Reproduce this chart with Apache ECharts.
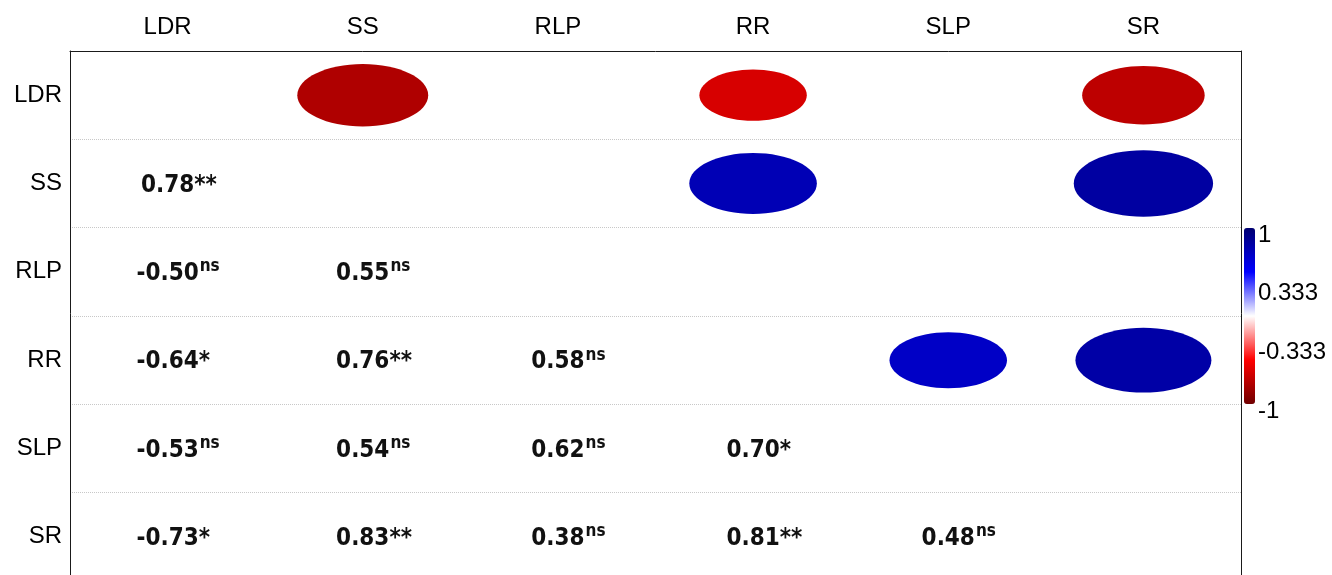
<!DOCTYPE html>
<html>
<head>
<meta charset="utf-8">
<script src="https://cdn.jsdelivr.net/npm/echarts@6/dist/echarts.min.js"></script>
<style>
  html, body { margin: 0; padding: 0; background: #fff; }
  #chart { width: 1332px; height: 575px; }
</style>
</head>
<body>
<div id="chart"></div>
<script>
// Trait names (columns left→right, rows top→bottom)
const traits = ['LDR', 'SS', 'RLP', 'RR', 'SLP', 'SR'];

// Lower triangle: [row, col, r, significance]
const coefCells = [
  [1, 0, 0.78, '**'],
  [2, 0, -0.50, 'ns'], [2, 1, 0.55, 'ns'],
  [3, 0, -0.64, '*'],  [3, 1, 0.76, '**'], [3, 2, 0.58, 'ns'],
  [4, 0, -0.53, 'ns'], [4, 1, 0.54, 'ns'], [4, 2, 0.62, 'ns'], [4, 3, 0.70, '*'],
  [5, 0, -0.73, '*'],  [5, 1, 0.83, '**'], [5, 2, 0.38, 'ns'], [5, 3, 0.81, '**'], [5, 4, 0.48, 'ns']
];

// Upper triangle ellipses for significant pairs: [row, col, r]
const ellipseCells = [
  [0, 1, -0.78], [0, 3, -0.64], [0, 5, -0.73],
  [1, 3, 0.76],  [1, 5, 0.83],
  [3, 4, 0.70],  [3, 5, 0.81]
];

// Colour bar tick values and labels
const barTickValues = [1, 1 / 3, -1 / 3, -1];
const barTickLabels = ['1', '0.333', '-0.333', '-1'];

const numFont = 'bold 24px "DejaVu Sans Condensed", "DejaVu Sans", sans-serif';
const supFont = 'bold 17px "DejaVu Sans Condensed", "DejaVu Sans", sans-serif';
const axisFont = '"Liberation Sans", Arial, sans-serif';

const measureCtx = document.createElement('canvas').getContext('2d');
function textWidth(str, font) {
  measureCtx.font = font;
  return measureCtx.measureText(str).width;
}

const chart = echarts.init(document.getElementById('chart'), null, { renderer: 'canvas' });

const hiddenAxisParts = {
  axisTick: { show: false },
  splitLine: { show: false }
};

chart.setOption({
  backgroundColor: '#fff',
  animation: false,
  grid: [
    { left: 70, top: 51, width: 1171, height: 530, outerBoundsMode: 'none', containLabel: false },
    { left: 1244, top: 228, width: 11, height: 176, outerBoundsMode: 'none', containLabel: false }
  ],
  xAxis: [
    Object.assign({
      type: 'category', gridIndex: 0, position: 'top', data: traits,
      axisLine: { show: true, lineStyle: { color: '#1a1a1a', width: 1 } },
      axisLabel: { fontSize: 24, fontFamily: axisFont, color: '#000', margin: 12 }
    }, hiddenAxisParts),
    { type: 'value', gridIndex: 1, show: false, min: 0, max: 1 }
  ],
  yAxis: [
    {
      type: 'category', gridIndex: 0, inverse: true, data: traits,
      axisLine: { show: true, onZero: false, lineStyle: { color: '#1a1a1a', width: 1 } },
      axisTick: { show: false },
      splitLine: { show: true, lineStyle: { type: [1, 1], color: '#c8c8c8', width: 1 } },
      axisLabel: { fontSize: 24, fontFamily: axisFont, color: '#000', margin: 8 }
    },
    Object.assign({
      type: 'value', gridIndex: 1, min: -1, max: 1, position: 'right',
      axisLine: { show: false },
      axisLabel: {
        customValues: barTickValues,
        formatter: function (v) {
          let best = 0;
          barTickValues.forEach(function (t, i) {
            if (Math.abs(t - v) < Math.abs(barTickValues[best] - v)) best = i;
          });
          return barTickLabels[best];
        },
        fontSize: 24, fontFamily: axisFont, color: '#000', margin: 3,
        verticalAlign: 'top', lineHeight: 14
      }
    }, hiddenAxisParts),
    Object.assign({
      // right-hand frame edge of the matrix
      type: 'category', gridIndex: 0, inverse: true, data: traits, position: 'right',
      axisLine: { show: true, onZero: false, lineStyle: { color: '#1a1a1a', width: 1 } },
      axisLabel: { show: false }
    }, hiddenAxisParts)
  ],
  visualMap: {
    type: 'continuous',
    min: -1, max: 1,
    dimension: 2,
    seriesIndex: 0,
    calculable: false,
    hoverLink: false,
    text: null,
    showLabel: false,
    orient: 'vertical',
    left: 1244, top: 228,
    itemWidth: 11, itemHeight: 176,
    padding: 0,
    inRange: { color: ['#700000', '#ff0000', '#ffffff', '#0000ff', '#000070'] }
  },
  series: [
    {
      name: 'ellipses',
      type: 'custom',
      coordinateSystem: 'cartesian2d',
      xAxisIndex: 0, yAxisIndex: 0,
      encode: { x: 0, y: 1 },
      data: ellipseCells.map(function (c) { return [c[1], c[0], c[2]]; }),
      renderItem: function (params, api) {
        const p = api.coord([api.value(0), api.value(1)]);
        const cell = api.size([1, 1]);
        const r = Math.abs(api.value(2));
        return {
          type: 'ellipse',
          shape: { cx: p[0], cy: p[1], rx: r * 0.43 * cell[0], ry: r * 0.453 * cell[1] },
          style: { fill: api.visual('color') }
        };
      }
    },
    {
      name: 'coefficients',
      type: 'custom',
      coordinateSystem: 'cartesian2d',
      xAxisIndex: 0, yAxisIndex: 0,
      encode: { x: 0, y: 1 },
      data: coefCells.map(function (c) { return [c[1], c[0], c[2]]; }),
      renderItem: function (params, api) {
        const p = api.coord([api.value(0), api.value(1)]);
        const cell = coefCells[params.dataIndex];
        const num = cell[2].toFixed(2);
        const sig = cell[3];
        const w = textWidth(num, numFont);
        const cy = p[1] + 2;
        const children = [{
          type: 'text', x: p[0], y: cy,
          style: { text: num, font: numFont, fill: '#111', align: 'center', verticalAlign: 'middle' }
        }];
        if (sig === 'ns') {
          children.push({
            type: 'text', x: p[0] + w / 2 + 1, y: cy - 7,
            style: { text: sig, font: supFont, fill: '#111', align: 'left', verticalAlign: 'middle' }
          });
        } else {
          children.push({
            type: 'text', x: p[0] + w / 2, y: cy,
            style: { text: sig, font: numFont, fill: '#111', align: 'left', verticalAlign: 'middle' }
          });
        }
        return { type: 'group', children: children };
      }
    }
  ]
});
</script>
</body>
</html>
